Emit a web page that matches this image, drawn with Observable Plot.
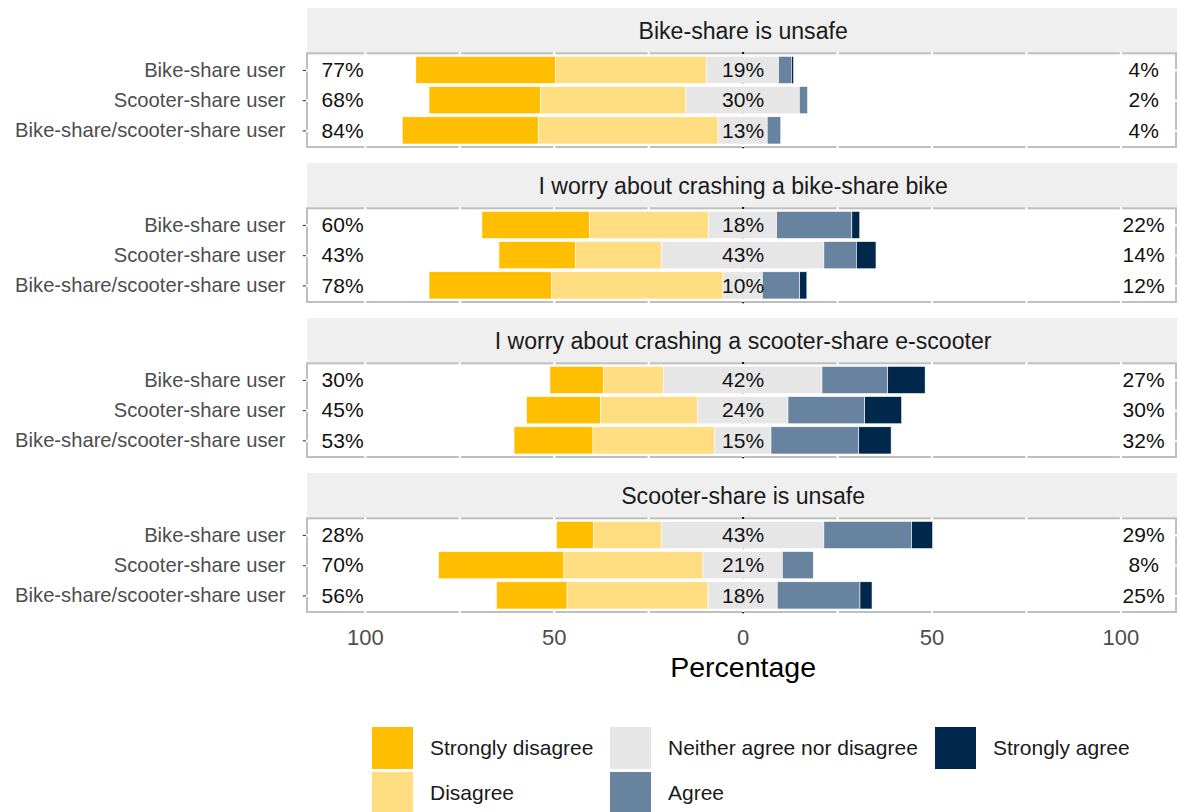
<!DOCTYPE html>
<html><head><meta charset="utf-8">
<script src="https://cdn.jsdelivr.net/npm/d3@7"></script>
<script src="https://cdn.jsdelivr.net/npm/@observablehq/plot@0.6"></script>
<style>
body{margin:0;background:#fff;font-family:"Liberation Sans",Arial,sans-serif;}
#chart svg{display:block;}
#legend{display:grid;grid-template-columns:238px 325px auto;grid-template-rows:42px 42px;grid-auto-flow:column;row-gap:3px;margin-left:372px;margin-top:27px;}
.item{display:flex;align-items:center;gap:17px;font-size:21px;color:#1a1a1a;}
.sw{width:41px;height:42px;flex:none;}
</style></head><body>
<div id="chart"></div><div id="legend"></div>
<script>
// ---- data ----
const facets = ["Bike-share is unsafe", "I worry about crashing a bike-share bike", "I worry about crashing a scooter-share e-scooter", "Scooter-share is unsafe"];
const groups = ["Bike-share user", "Scooter-share user", "Bike-share/scooter-share user"];
const levels = ["Strongly disagree", "Disagree", "Neither agree nor disagree", "Agree", "Strongly agree"];
const levelColors = ["#ffbf00", "#ffdd80", "#e6e6e6", "#6783a0", "#00274c"];
// facet-major order: 4 facets x 3 groups
const stronglyDisagree = [37.0, 29.5, 36.0, 28.5, 20.3, 32.5, 14.2, 19.6, 20.9, 9.8, 33.2, 18.7];
const disagree         = [40.0, 38.5, 47.6, 31.5, 22.7, 45.3, 15.8, 25.6, 32.1, 18.0, 36.8, 37.3];
const neutral          = [19.0, 30.0, 13.0, 18.0, 43.0, 10.4, 42.0, 24.0, 15.0, 43.0, 21.0, 18.3];
const agree            = [3.4, 2.2, 3.6, 19.9, 8.6, 9.9, 17.4, 20.3, 23.2, 23.2, 8.2, 21.9];
const stronglyAgree    = [0.6, 0, 0, 2.1, 5.2, 1.9, 9.9, 9.8, 8.6, 5.6, 0, 3.2];
const xTicks = [-100, -50, 0, 50, 100];
const gridX = [-100, -75, -50, -25, 0, 25, 50, 75, 100];
const xLabel = "Percentage";

// ---- layout (in row units) ----
const STRIP = 1.5, PAD = 0.55, GAP = 0.53, BAR = 0.9;
const PANEL = (groups.length - 1) + 2 * PAD;
const PITCH = STRIP + PANEL + GAP;
const YMAX = facets.length * PITCH - GAP;
const XMIN = -115.3, XMAX = 114.7;

const rows = [];
facets.forEach((f, fi) => groups.forEach((g, gi) => {
  const i = fi * groups.length + gi;
  rows.push({facet: f, group: g, y: fi * PITCH + STRIP + PAD + gi,
    v: [stronglyDisagree[i], disagree[i], neutral[i], agree[i], stronglyAgree[i]]});
}));
const segs = rows.flatMap(r => {
  const [sd, d, n, a, sa] = r.v;
  const e = [-n/2 - d - sd, -n/2 - d, -n/2, n/2, n/2 + a, n/2 + a + sa];
  return levels.map((lv, k) => ({level: lv, x1: e[k], x2: e[k+1], y: r.y})).filter(s => s.x2 > s.x1);
});
const panels = facets.map((f, fi) => ({facet: f, top: fi * PITCH, pTop: fi * PITCH + STRIP, pBot: fi * PITCH + STRIP + PANEL}));
const grid = panels.flatMap(p => gridX.map(x => ({x, y1: p.pTop - 0.04, y2: p.pBot + 0.04})));

const chart = Plot.plot({
  width: 1179, height: 700,
  marginLeft: 307, marginRight: 3, marginTop: 8, marginBottom: 88,
  x: {domain: [XMIN, XMAX], axis: null},
  y: {domain: [0, YMAX], reverse: true, axis: null},
  color: {domain: levels, range: levelColors},
  style: {fontFamily: "'Liberation Sans', Arial, sans-serif", background: "white", overflow: "visible"},
  marks: [
    Plot.rect(panels, {x1: () => XMIN, x2: () => XMAX + 0.3, y1: "top", y2: "pTop", fill: "#efefef"}),
    Plot.rect(panels, {x1: () => XMIN, x2: () => XMAX, y1: "pTop", y2: "pBot", fill: "white", stroke: "#bfbfbf", strokeWidth: 2}),
    Plot.ruleX(grid, {x: "x", y1: "y1", y2: "y2", stroke: "white", strokeWidth: 2.2}),
    Plot.ruleY(rows, {y: "y", x1: () => XMIN - 0.35, x2: () => XMAX + 0.35, stroke: "white", strokeWidth: 2.2}),
    Plot.ruleY(rows, {y: "y", x1: () => XMIN - 1.1, x2: () => XMIN - 0.3, stroke: "#333333", strokeWidth: 1.1}),
    Plot.ruleX(panels, {x: () => 0, y1: p => p.pTop - 0.04, y2: p => p.pBot + 0.04, stroke: "black", strokeWidth: 2, strokeDasharray: "2,3"}),
    Plot.rect(segs, {x1: "x1", x2: "x2", y1: d => d.y - BAR/2, y2: d => d.y + BAR/2, fill: "level", stroke: "white", strokeWidth: 0.6}),
    Plot.text(panels, {x: () => 0, y: p => p.top + STRIP/2, text: "facet", fontSize: 23.1, fill: "#1a1a1a"}),
    Plot.text(rows, {x: () => XMIN, y: "y", text: "group", textAnchor: "end", dx: -22, fontSize: 20.2, fill: "#4d4d4d"}),
    Plot.text(rows, {x: () => -106, y: "y", text: r => Math.round(r.v[0] + r.v[1]) + "%", fontSize: 21, fill: "#111"}),
    Plot.text(rows, {x: () => 0, y: "y", text: r => Math.round(r.v[2]) + "%", fontSize: 21, fill: "#111"}),
    Plot.text(rows, {x: () => 106, y: "y", text: r => Math.round(r.v[3] + r.v[4]) + "%", fontSize: 21, fill: "#111"}),
    Plot.text(xTicks, {x: d => d, y: () => YMAX, text: d => String(Math.abs(d)), dy: 25, fontSize: 22, fill: "#4d4d4d"}),
    Plot.text([xLabel], {x: () => 0, y: () => YMAX, text: d => d, dy: 55, fontSize: 28.5, fill: "#000"})
  ]
});
document.getElementById("chart").append(chart);

const legend = document.getElementById("legend");
levels.forEach((lv, k) => {
  const it = document.createElement("div"); it.className = "item";
  const sw = document.createElement("div"); sw.className = "sw"; sw.style.background = levelColors[k];
  const tx = document.createElement("span"); tx.textContent = lv;
  it.append(sw, tx); legend.append(it);
});
</script></body></html>
